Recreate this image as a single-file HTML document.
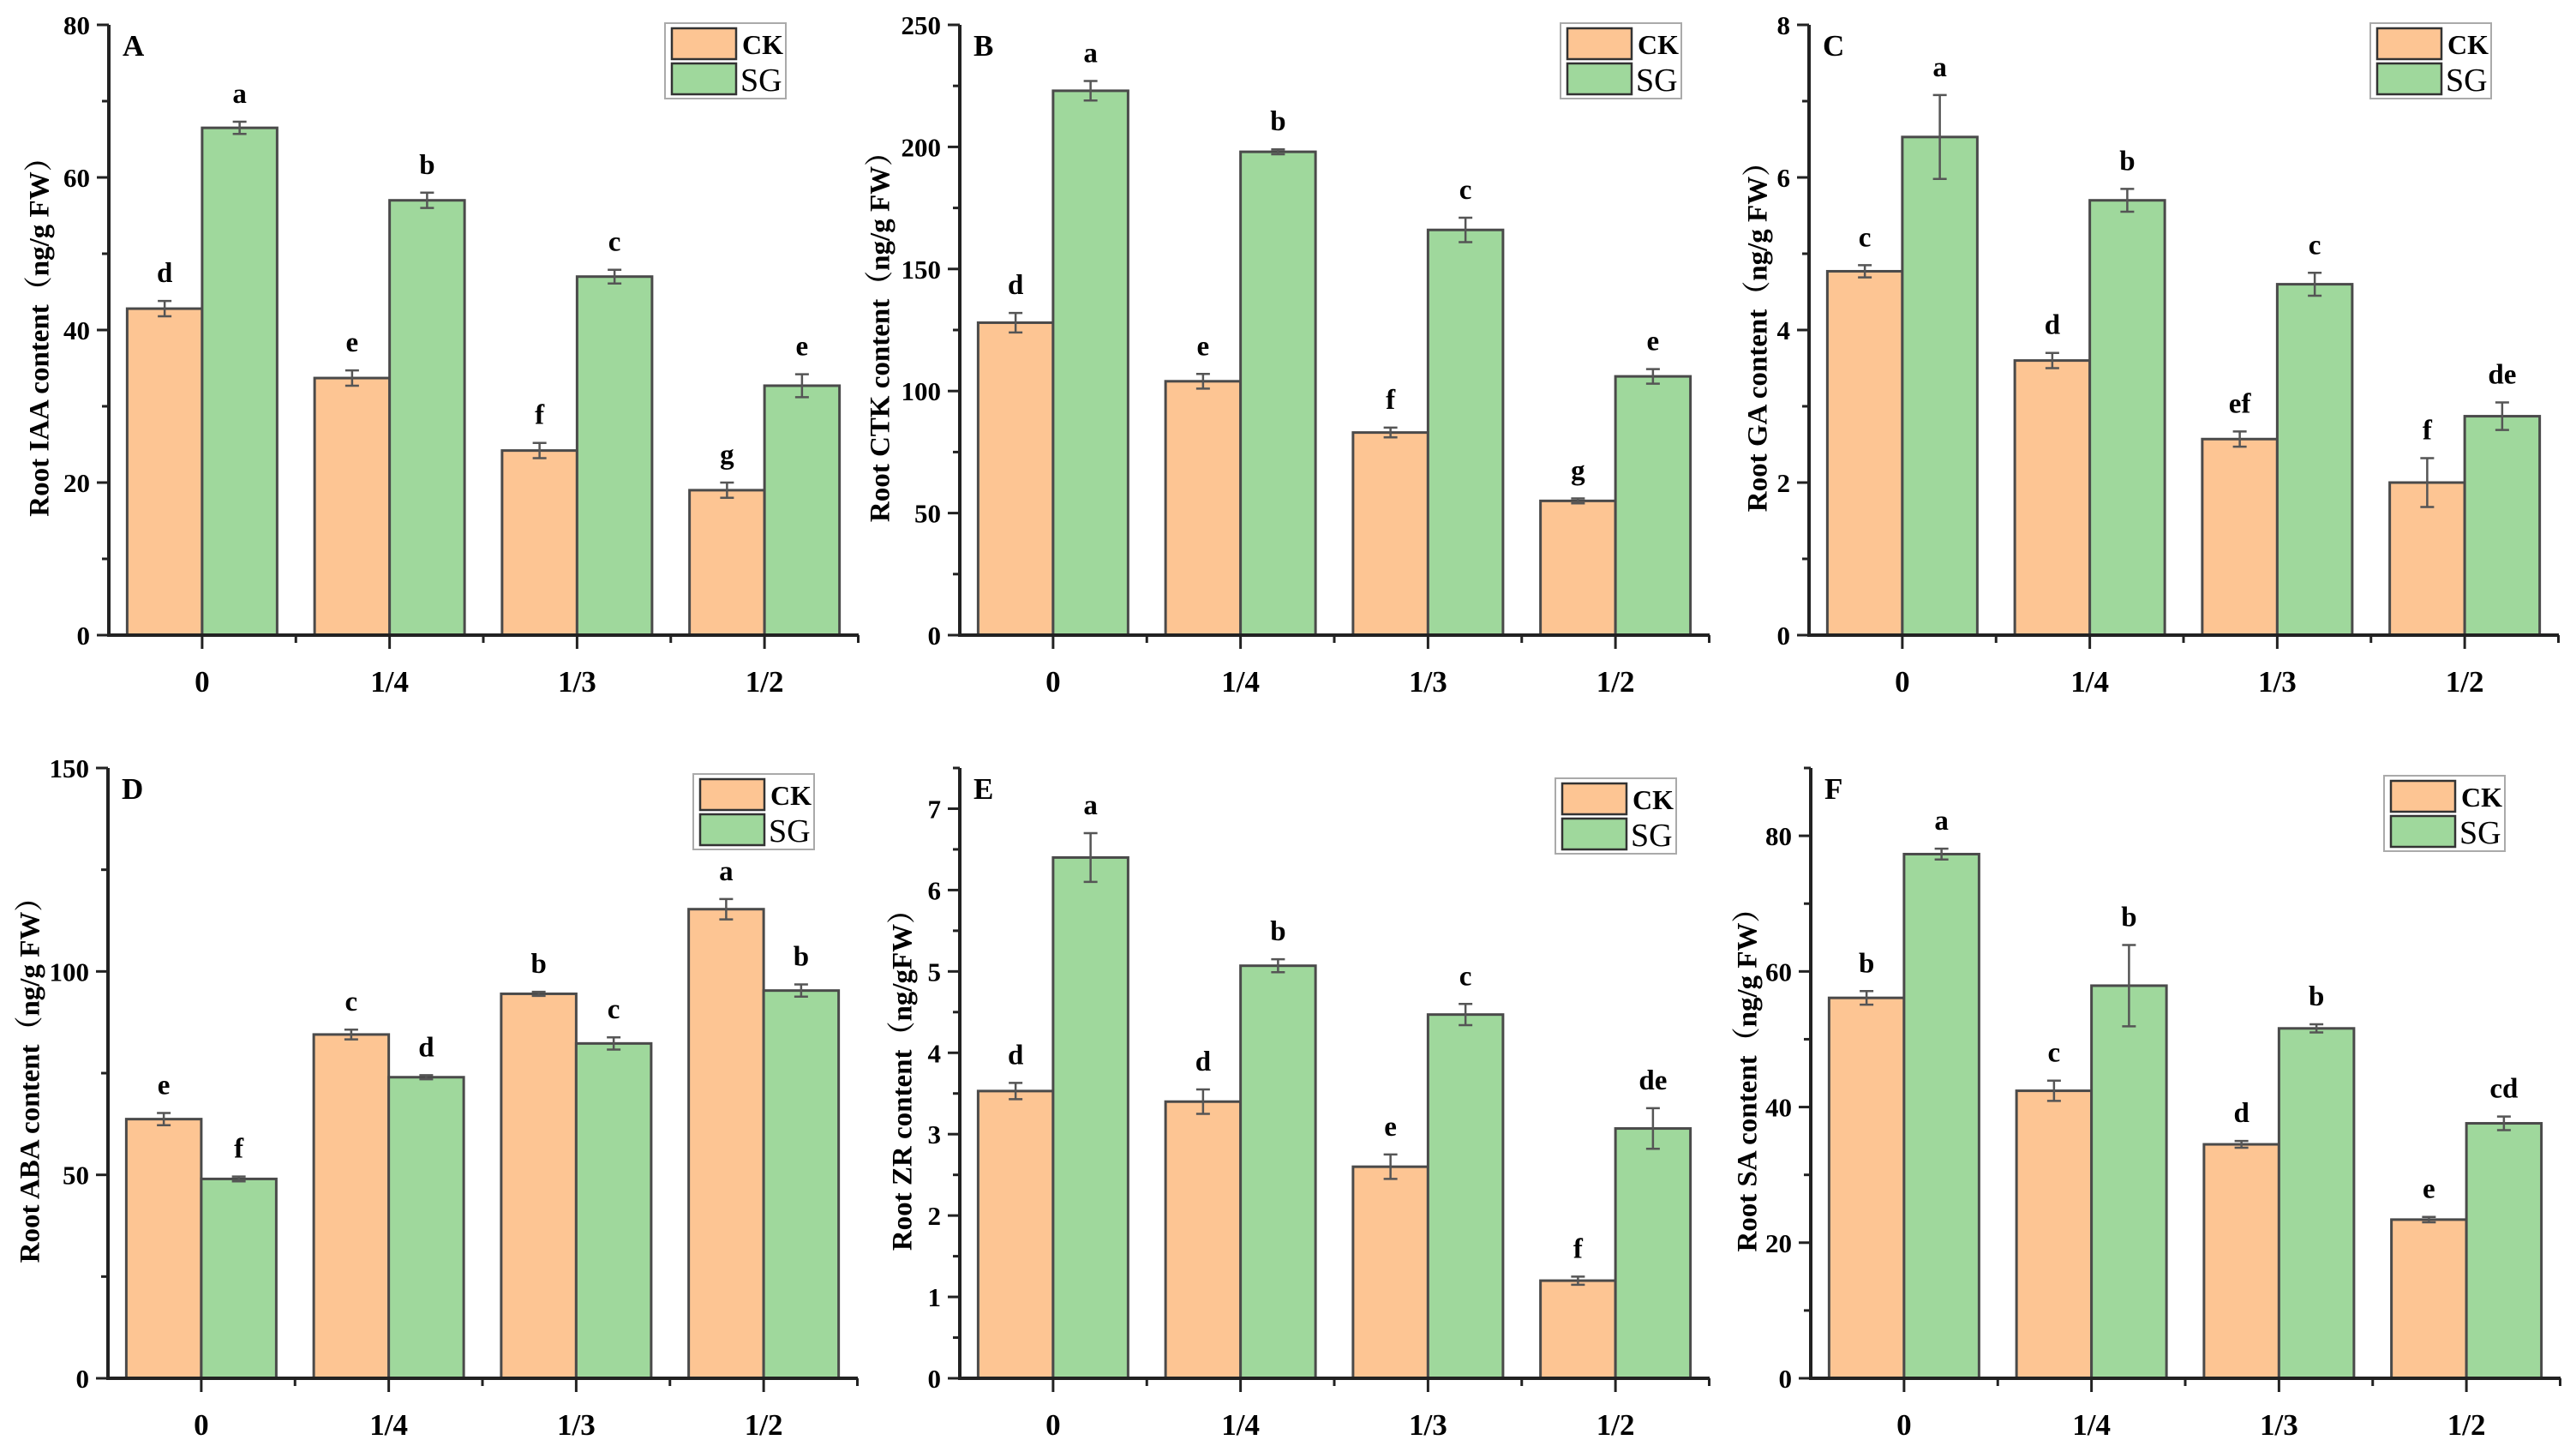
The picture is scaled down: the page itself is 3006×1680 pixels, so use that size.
<!DOCTYPE html>
<html><head><meta charset="utf-8"><style>
html,body{margin:0;padding:0;background:#fff;}
svg{display:block;}
text{font-family:"Liberation Serif","Noto Serif CJK SC",serif;}
</style></head>
<body>
<svg id="fig" xmlns="http://www.w3.org/2000/svg" width="3006" height="1680" viewBox="0 0 3006 1680"></svg>
<script>
const categories = ["0","1/4","1/3","1/2"];
const panelLetters = ["A","B","C","D","E","F"];
const yTitles = ["Root IAA content（ng/g FW）","Root CTK content（ng/g FW）","Root GA content（ng/g FW）","Root ABA content（ng/g FW）","Root ZR content（ng/gFW）","Root SA content（ng/g FW）"];
const yMaxes = [80,250,8,150,7.5,90];
const yStepMajor = [20,50,2,50,1,20];
const yStepMinor = [10,25,1,25,0.5,10];
const ckA=[42.8,33.7,24.2,19.0], ckAerr=[1.0,1.0,1.0,1.0], sgA=[66.5,57.0,47.0,32.7], sgAerr=[0.8,1.0,0.9,1.5];
const ckB=[128,104,83,55], ckBerr=[4,3,2,1], sgB=[223,198,166,106], sgBerr=[4,1,5,3];
const ckC=[4.77,3.6,2.57,2.0], ckCerr=[0.08,0.1,0.1,0.32], sgC=[6.53,5.7,4.6,2.87], sgCerr=[0.55,0.15,0.15,0.18];
const ckD=[63.7,84.5,94.5,115.3], ckDerr=[1.5,1.2,0.5,2.5], sgD=[49,74,82.3,95.3], sgDerr=[0.6,0.5,1.5,1.5];
const ckE=[3.53,3.4,2.6,1.2], ckEerr=[0.1,0.15,0.15,0.05], sgE=[6.4,5.07,4.47,3.07], sgEerr=[0.3,0.08,0.13,0.25];
const ckF=[56.1,42.4,34.5,23.4], ckFerr=[1.0,1.5,0.5,0.4], sgF=[77.3,57.9,51.6,37.6], sgFerr=[0.8,6.0,0.6,1.0];
const ckLetters=[["d","e","f","g"],["d","e","f","g"],["c","d","ef","f"],["e","c","b","a"],["d","d","e","f"],["b","c","d","e"]];
const sgLetters=[["a","b","c","e"],["a","b","c","e"],["a","b","c","de"],["f","d","c","b"],["a","b","c","de"],["a","b","b","cd"]];
const ckSeries=[ckA,ckB,ckC,ckD,ckE,ckF], ckErrs=[ckAerr,ckBerr,ckCerr,ckDerr,ckEerr,ckFerr];
const sgSeries=[sgA,sgB,sgC,sgD,sgE,sgF], sgErrs=[sgAerr,sgBerr,sgCerr,sgDerr,sgEerr,sgFerr];

// layout
const axX=[127,1120,2111,126,1120,2113];
const zeroY=[741,741,741,1608,1608,1608];
const topY=[29,29,29,896,896,896];
const titleX=[49,1030,2054,38,1056,2042];
const legX=[776,1821,2766,809,1815,2782];
const legY=[27,27,27,903,908,905];
const W=875, G=W/4, BW=G*0.4;
const NS="http://www.w3.org/2000/svg";
const svg=document.getElementById('fig');
function mk(tag,attrs,parent){const e=document.createElementNS(NS,tag);for(const k in attrs)e.setAttribute(k,attrs[k]);(parent||svg).appendChild(e);return e;}

for(let p=0;p<6;p++){
  const g=mk('g',{});
  
  
  const x0=axX[p], y0=zeroY[p], yt=topY[p], ymax=yMaxes[p];
  const ys=v=>y0-(v/ymax)*(y0-yt);
  const xc=i=>x0+G*i+G/2-0.5;
  for(let i=0;i<4;i++){
    const cv=ckSeries[p][i], sv=sgSeries[p][i];
    const r1=mk('rect',{x:xc(i)-BW,y:ys(cv),width:BW,height:y0-ys(cv),fill:'#fdc593',stroke:'#4a4a4a','stroke-width':3},g);
    
    
    const r2=mk('rect',{x:xc(i),y:ys(sv),width:BW,height:y0-ys(sv),fill:'#9fd89c',stroke:'#4a4a4a','stroke-width':3},g);
    
    
    [[xc(i)-BW/2,cv,ckErrs[p][i],ckLetters[p][i]],[xc(i)+BW/2,sv,sgErrs[p][i],sgLetters[p][i]]].forEach(([cx,v,e,l])=>{
      const eb=mk('path',{d:`M${cx-8},${ys(v+e)}H${cx+8}M${cx},${ys(v+e)}V${ys(v-e)}M${cx-8},${ys(v-e)}H${cx+8}`,stroke:'#555','stroke-width':2.5,fill:'none'},g);
      
      
      const t=mk('text',{x:cx,y:ys(v+e)-22,'text-anchor':'middle','font-size':33,'font-weight':'bold'},g);
      t.textContent=l;
      
      
    });
  }
  const ax=mk('path',{d:`M${x0},${yt}V${y0}H${x0+W}`,stroke:'#222','stroke-width':4,fill:'none'},g);
  
  
  for(let v=0;v<=ymax+1e-9;v+=yStepMinor[p]){
    const isMaj=Math.abs(v/yStepMajor[p]-Math.round(v/yStepMajor[p]))<1e-6;
    mk('line',{x1:x0-(isMaj?14:8),x2:x0,y1:ys(v),y2:ys(v),stroke:'#222','stroke-width':3},g);
    if(isMaj){
      const t=mk('text',{x:x0-22,y:ys(v)+11,'text-anchor':'end','font-size':31,'font-weight':'bold'},g);
      t.textContent=String(Math.round(v*10)/10);
      
      
    }
  }
  for(let i=0;i<4;i++){
    mk('line',{x1:xc(i),x2:xc(i),y1:y0,y2:y0+16,stroke:'#222','stroke-width':3},g);
    mk('line',{x1:xc(i)+G/2,x2:xc(i)+G/2,y1:y0,y2:y0+9,stroke:'#222','stroke-width':3},g);
    const t=mk('text',{x:xc(i),y:y0+66,'text-anchor':'middle','font-size':35,'font-weight':'bold'},g);
    t.textContent=categories[i];
    
    
  }
  const pl=mk('text',{x:x0+16,y:yt+36,'font-size':35,'font-weight':'bold'},g);
  pl.textContent=panelLetters[p];
  
  
  const cy=(yt+y0)/2;
  const yt2=mk('text',{x:titleX[p],y:cy,'text-anchor':'middle','font-size':33,'font-weight':'bold',transform:`rotate(-90 ${titleX[p]} ${cy})`,'dominant-baseline':'middle'},g);
  yt2.textContent=yTitles[p];
  
  
  const lg=mk('g',{},g);
  
  
  const lx=legX[p], ly=legY[p];
  mk('rect',{x:lx,y:ly,width:141,height:88,fill:'#fff',stroke:'#aaa','stroke-width':2},lg);
  mk('rect',{x:lx+8,y:ly+6,width:75,height:36,fill:'#fdc593',stroke:'#333','stroke-width':2.5},lg);
  mk('rect',{x:lx+8,y:ly+47,width:75,height:36,fill:'#9fd89c',stroke:'#333','stroke-width':2.5},lg);
  const t1=mk('text',{x:lx+90,y:ly+36,'font-size':32,'font-weight':'bold'},lg);
  t1.textContent='CK';
  
  
  const t2=mk('text',{x:lx+88,y:ly+79,'font-size':38},lg);
  t2.textContent='SG';
  
  
}
</script>
</body></html>
